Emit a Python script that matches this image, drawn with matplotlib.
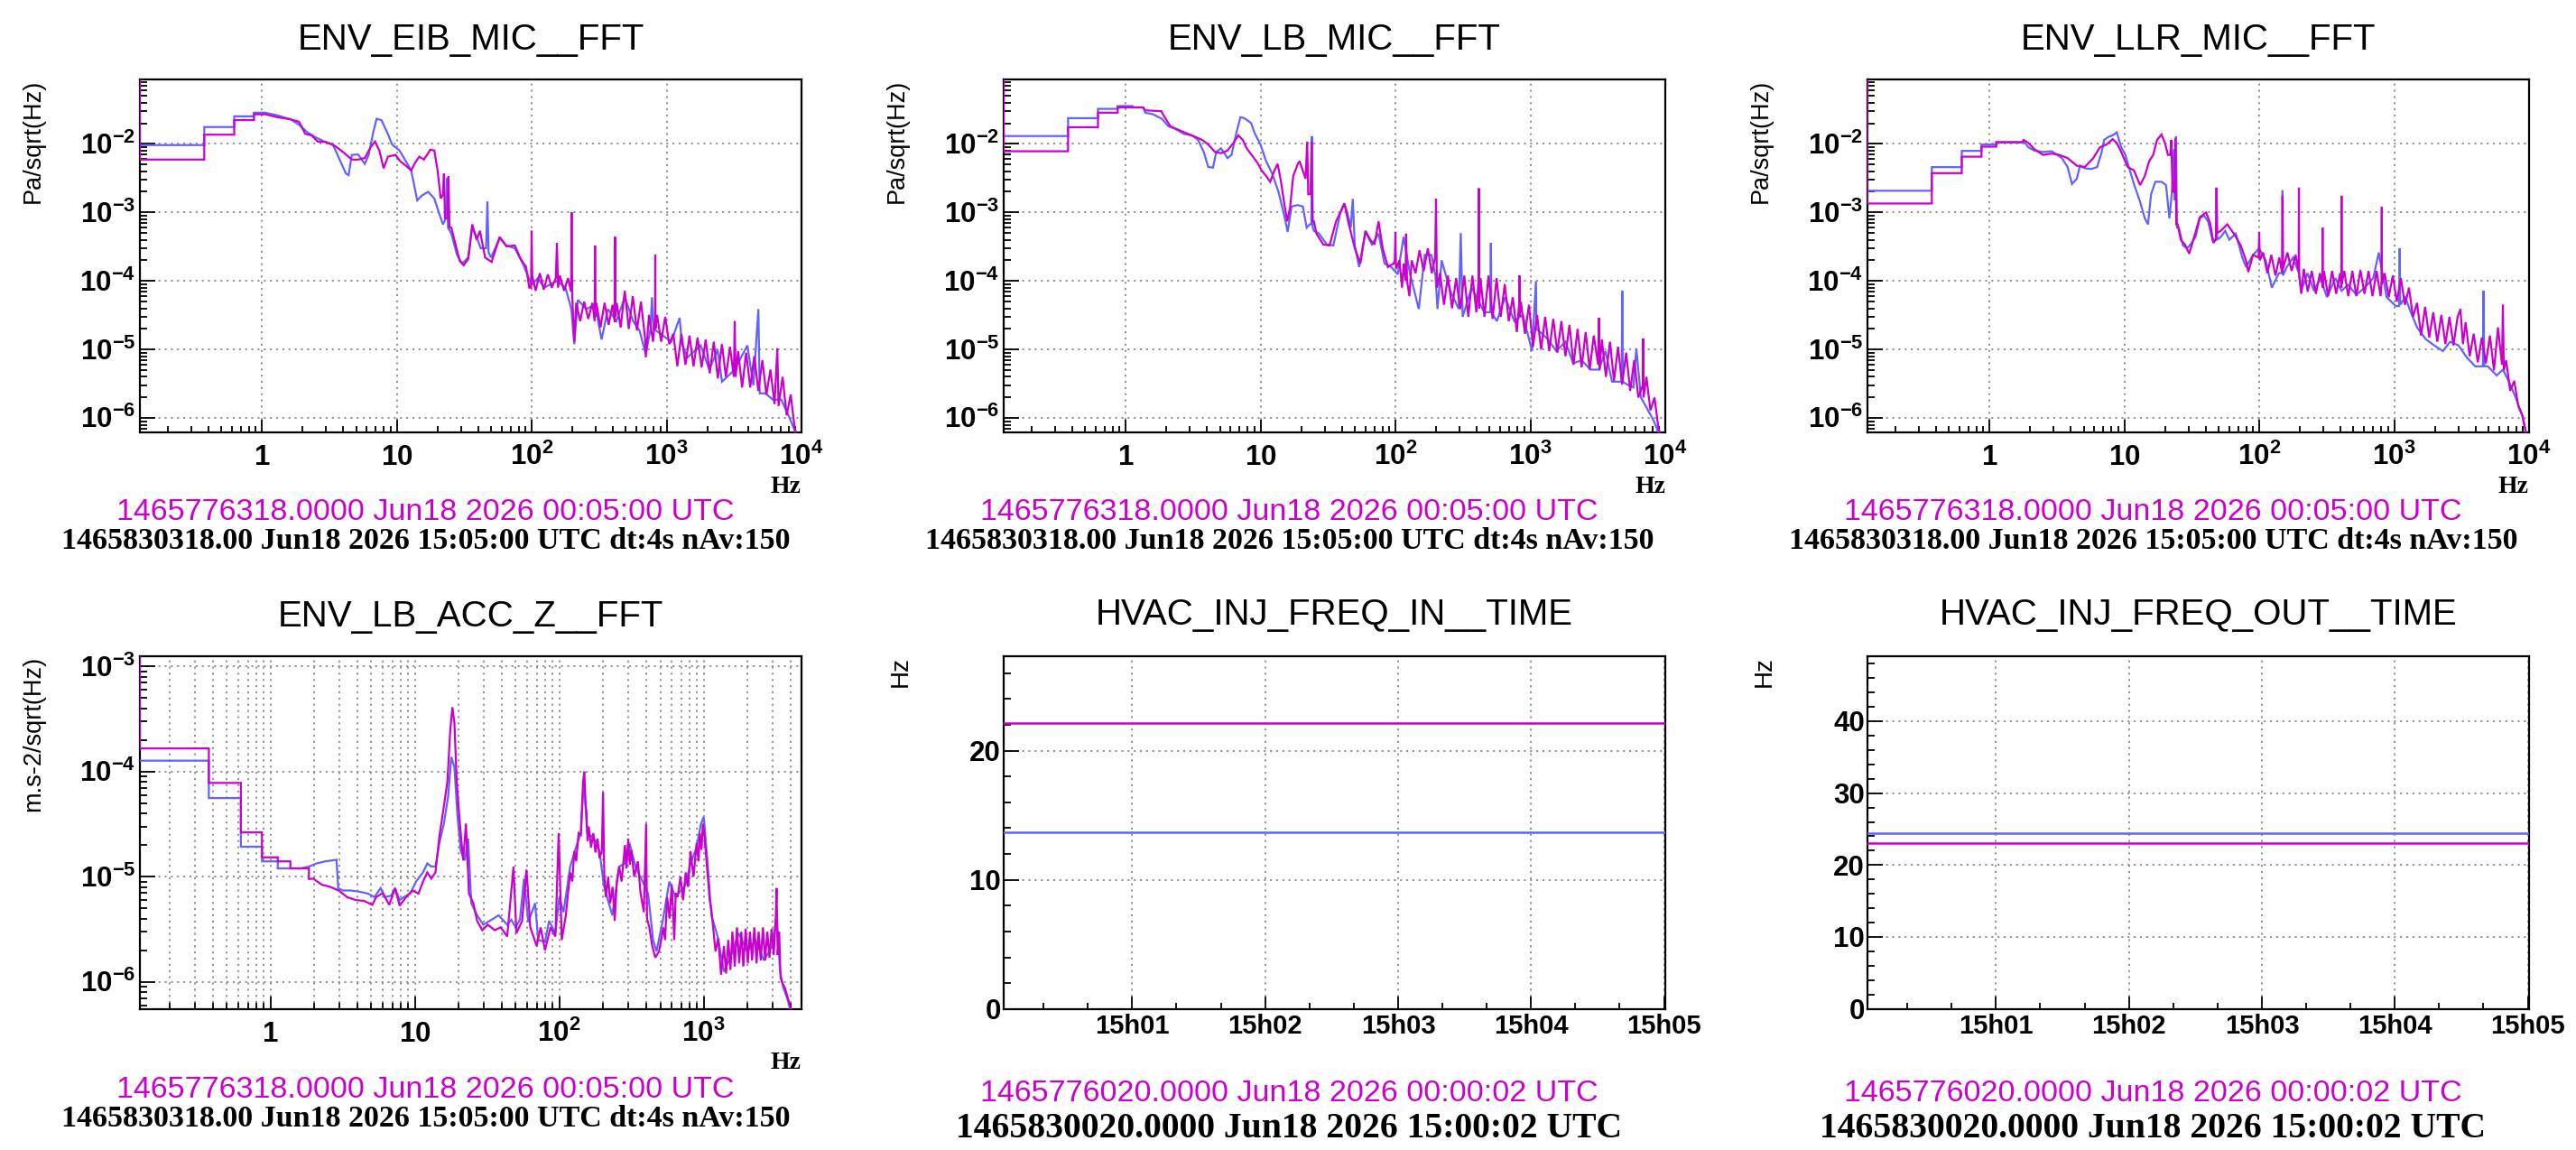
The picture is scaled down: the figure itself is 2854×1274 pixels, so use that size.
import numpy as np
import matplotlib
matplotlib.use("Agg")
import matplotlib.pyplot as plt
from matplotlib import transforms
from matplotlib.ticker import FixedLocator, LogLocator, MultipleLocator, NullFormatter

# ---------------------------------------------------------------- data
# amplitude spectra: (frequency [Hz], amplitude)
EIB_BLUE = [(0.125, 9.6e-3), (0.375, 9.6e-3), (0.375, 1.76e-2), (0.625, 1.76e-2), (0.625, 2.52e-2),
            (0.875, 2.52e-2), (0.875, 2.85e-2), (1.06, 2.85e-2), (1.31, 2.6e-2), (1.63, 2.28e-2),
            (1.89, 1.9e-2), (2.18, 1.47e-2), (2.52, 1.24e-2), (2.91, 1.08e-2), (3.36, 9.8e-3),
            (3.6, 7.3e-3), (4.2, 3.7e-3), (4.4, 3.5e-3), (4.65, 6.9e-3), (5.18, 7.0e-3), (5.8, 5.1e-3),
            (6.2, 6.9e-3), (6.7, 1.47e-2), (7.1, 2.32e-2), (7.7, 2.22e-2), (8.6, 1.4e-2), (9.24, 9.8e-3),
            (10.5, 8.0e-3), (11.5, 5.9e-3), (12.8, 4.1e-3), (14.2, 1.5e-3), (15.3, 1.75e-3),
            (17.1, 2.0e-3), (19.0, 1.6e-3), (20.7, 9.5e-4), (22.0, 6.7e-4), (23.0, 8e-4), (23.6, 3.2e-3),
            (24.0, 6e-4), (25.4, 4.9e-4), (28, 2.4e-4), (30.5, 1.8e-4), (33.9, 2.2e-4), (36.3, 6e-4),
            (39.1, 4.4e-4), (42, 3e-4), (46, 3e-4), (47, 1.45e-3), (48, 2.6e-4), (50, 2.2e-4),
            (58, 4.2e-4), (65, 3.3e-4), (75, 3e-4), (86, 1.8e-4), (100, 8.8e-5), (111, 1.1e-4),
            (124, 8e-5), (154, 1e-4), (178, 8e-5), (197, 3.9e-5), (207, 1.2e-5), (220, 5.3e-5),
            (254, 3.9e-5), (295, 4.5e-5), (330, 1.4e-5), (367, 3.9e-5), (425, 2.6e-5), (490, 5.8e-5),
            (565, 2.6e-5), (630, 1.9e-5), (702, 8.5e-6), (760, 2e-5), (780, 5.8e-5), (800, 2e-5),
            (900, 1.7e-5), (1082, 1.3e-5), (1250, 2.9e-5), (1300, 1.2e-5), (1430, 7.7e-6),
            (1790, 1.15e-5), (2074, 5.1e-6), (2390, 1.0e-5), (2575, 3.4e-6), (3198, 5.1e-6),
            (3971, 1.15e-5), (4400, 3.0e-6), (4790, 3.9e-5), (4900, 2.3e-6), (5400, 2.3e-6),
            (6124, 1.86e-6), (7080, 1.86e-6), (8170, 1.0e-6), (9440, 5e-7)]
EIB_MAG = [(0.125, 0.2), (0.125, 5.9e-3), (0.375, 5.9e-3), (0.375, 1.36e-2), (0.625, 1.36e-2),
           (0.625, 2.22e-2), (0.875, 2.22e-2), (0.875, 2.7e-2), (1.06, 2.7e-2), (1.31, 2.45e-2),
           (1.63, 2.28e-2), (1.89, 2.1e-2), (2.1, 1.4e-2), (2.34, 1.33e-2), (2.6, 1.08e-2),
           (3.0, 1.06e-2), (3.5, 9.3e-3), (4.0, 7.6e-3), (4.65, 5.9e-3), (5.18, 5.9e-3), (5.8, 6.2e-3),
           (6.4, 8.9e-3), (6.9, 1.08e-2), (7.44, 8e-3), (8.0, 4.4e-3), (8.6, 6.5e-3), (9.8, 6.9e-3),
           (10.6, 5.6e-3), (11.7, 4.8e-3), (12.8, 4.1e-3), (13.7, 5.3e-3), (14.7, 6.5e-3),
           (15.9, 5.9e-3), (17.1, 7.3e-3), (17.7, 8.2e-3), (19.0, 8e-3), (20.1, 4.1e-3),
           (21.2, 1.6e-3), (22.0, 1.8e-3), (22.4, 3.7e-3), (22.8, 8.2e-4), (23.8, 8.2e-4),
           (24.2, 3.4e-3), (24.6, 6e-4), (25.4, 6e-4), (27.4, 3.3e-4), (29.3, 1.97e-4), (31.4, 1.7e-4),
           (33.9, 2.1e-4), (36.3, 6.7e-4), (39.1, 4e-4), (41.4, 5.4e-4), (45.2, 2.2e-4),
           (50.5, 1.9e-4), (58, 4.4e-4), (65, 3.2e-4), (75, 3.3e-4), (83, 2.1e-4), (91, 1.6e-4),
           (96, 8e-5), (99, 8e-5), (100, 5.4e-4), (101, 1.2e-4), (107, 7.2e-5), (115, 1.3e-4),
           (123, 7.5e-5), (132, 1.25e-4), (141, 8e-5), (151, 1.1e-4), (154, 3.6e-4), (157, 8e-5),
           (162, 1.2e-4), (174, 7.2e-5), (186, 1.1e-4), (196, 7e-5), (198, 1e-3), (200, 6e-5),
           (207, 1.3e-5), (214, 4.8e-5), (229, 2.6e-5), (245, 5e-5), (263, 2.8e-5), (282, 4.8e-5),
           (293, 2.6e-5), (295, 3.3e-4), (298, 3e-5), (302, 4.8e-5), (324, 2.1e-5), (347, 4.8e-5),
           (372, 2.3e-5), (398, 4.5e-5), (413, 2.5e-5), (415, 4.4e-4), (418, 3e-5), (427, 4.8e-5),
           (457, 2.1e-5), (490, 7.2e-5), (525, 2.0e-5), (562, 6e-5), (603, 1.9e-5), (646, 5e-5),
           (692, 1.5e-5), (702, 7.7e-6), (741, 3.2e-5), (794, 1.3e-5), (822, 3e-5), (825, 2.4e-4),
           (828, 2e-5), (851, 3.2e-5), (912, 1.3e-5), (977, 3e-5), (1047, 1.2e-5), (1122, 1.7e-5),
           (1202, 5.7e-6), (1288, 1.7e-5), (1380, 6e-6), (1479, 1.6e-5), (1585, 5.7e-6),
           (1698, 1.5e-5), (1820, 5.5e-6), (1950, 1.4e-5), (2089, 4.5e-6), (2239, 1.3e-5),
           (2399, 3.8e-6), (2570, 1.2e-5), (2754, 4e-6), (2951, 1.1e-5), (3150, 4e-6), (3200, 2.6e-5),
           (3250, 4e-6), (3388, 9.5e-6), (3631, 2.8e-6), (3890, 9e-6), (4169, 2.8e-6), (4467, 8e-6),
           (4786, 2.5e-6), (5129, 7e-6), (5495, 2.2e-6), (5888, 5.1e-6), (6310, 1.6e-6),
           (6620, 1.04e-5), (6761, 1.5e-6), (7244, 4e-6), (7762, 1.1e-6), (8318, 2.2e-6),
           (8913, 7e-7), (9550, 5e-7)]

LB_BLUE = [(0.125, 1.3e-2), (0.375, 1.3e-2), (0.375, 2.37e-2), (0.625, 2.37e-2), (0.625, 3.24e-2),
           (0.875, 3.24e-2), (0.875, 3.56e-2), (1.125, 3.56e-2), (1.125, 3.4e-2), (1.35, 3.4e-2),
           (1.4, 2.85e-2), (1.6, 2.7e-2), (1.86, 2.32e-2), (2.08, 1.8e-2), (2.3, 1.68e-2), (2.7, 1.4e-2),
           (3.1, 1.33e-2), (3.45, 1.14e-2), (3.8, 7.6e-3), (4.1, 4.6e-3), (4.45, 4.5e-3), (4.7, 7.6e-3),
           (5.1, 8.6e-3), (5.7, 6.2e-3), (6.1, 6.9e-3), (6.6, 1.4e-2), (7.1, 2.45e-2), (7.6, 2.37e-2),
           (8.5, 2.02e-2), (9.1, 1.4e-2), (10, 9.8e-3), (11, 5.6e-3), (12.2, 3.7e-3), (13.6, 2.0e-3),
           (15, 9e-4), (15.9, 5.2e-4), (17, 1.22e-3), (18.9, 1.28e-3), (20.6, 1.22e-3), (22, 6e-4),
           (23.2, 6.7e-4), (23.8, 6.7e-4), (24.1, 1.29e-2), (24.4, 6e-4), (24.9, 5.4e-4),
           (27.2, 4.9e-4), (31, 3.4e-4), (34.7, 3.3e-4), (39.1, 1e-3), (41.8, 1.35e-3), (44, 1e-3),
           (46.7, 6e-4), (48.3, 1.58e-3), (50, 3.3e-4), (53.8, 1.6e-4), (60, 5.2e-4), (67, 3.4e-4),
           (75, 4.9e-4), (83, 1.8e-4), (93, 1.6e-4), (104, 1.25e-4), (115, 4.4e-4), (128, 1.3e-4),
           (149, 3.9e-5), (165, 2.4e-4), (185, 2.4e-4), (198, 1.2e-4), (205, 3.9e-5), (220, 2e-4),
           (255, 7.2e-5), (295, 3.9e-5), (305, 5e-4), (315, 3.0e-5), (367, 8e-5), (420, 4.8e-5),
           (455, 3.5e-5), (505, 3.5e-5), (510, 3.6e-4), (515, 3.5e-5), (565, 2.6e-5), (650, 5.8e-5),
           (760, 2.6e-5), (880, 3.2e-5), (1030, 9.5e-6), (1100, 1e-4), (1110, 2e-5), (1210, 1.73e-5),
           (1350, 1.41e-5), (1560, 9.5e-6), (1820, 1.3e-5), (2080, 6.3e-6), (2400, 7e-6),
           (2790, 5.1e-6), (3220, 5.1e-6), (3600, 9.5e-6), (4030, 3.4e-6), (4750, 3.4e-6),
           (4800, 7.2e-5), (4850, 3.4e-6), (5200, 3.1e-6), (5800, 2.8e-6), (6100, 1.04e-5),
           (6600, 2.0e-6), (7300, 1.4e-6), (8200, 9.2e-7), (9300, 5e-7)]
LB_MAG = [(0.125, 0.2), (0.125, 7.8e-3), (0.375, 7.8e-3), (0.375, 1.75e-2), (0.625, 1.75e-2),
          (0.625, 2.85e-2), (0.875, 2.85e-2), (0.875, 3.4e-2), (1.35, 3.4e-2), (1.4, 3.08e-2),
          (1.84, 3.0e-2), (1.95, 2.45e-2), (2.15, 1.8e-2), (2.5, 1.58e-2), (2.9, 1.4e-2),
          (3.3, 1.26e-2), (3.7, 1.14e-2), (4.1, 9.8e-3), (4.6, 7.6e-3), (5.1, 7.3e-3), (5.7, 8e-3),
          (6.3, 1.03e-2), (6.85, 1.33e-2), (7.4, 1.14e-2), (7.9, 8.6e-3), (8.8, 6.5e-3), (9.5, 5.3e-3),
          (10.2, 4.1e-3), (11, 3.4e-3), (11.8, 2.8e-3), (12.7, 4.1e-3), (13.4, 5.1e-3), (14.2, 2.8e-3),
          (15, 1.35e-3), (15.8, 7.4e-4), (16.6, 1.22e-3), (17.5, 3.4e-3), (18.9, 5.1e-3),
          (19.5, 5.6e-3), (20.6, 4.1e-3), (21.6, 3.1e-3), (22.2, 1.08e-2), (22.6, 1.84e-3),
          (23.5, 1.84e-3), (23.9, 1.08e-2), (24.3, 7.4e-4), (24.9, 7.4e-4), (26, 4.9e-4),
          (29.2, 3.4e-4), (32.5, 3.3e-4), (36.3, 7.4e-4), (39.1, 1e-3), (41.8, 1.35e-3),
          (45.2, 6.7e-4), (50, 3e-4), (55, 1.8e-4), (60, 5.4e-4), (65, 4e-4), (70, 3.4e-4),
          (75, 7.4e-4), (80.5, 3e-4), (88, 1.6e-4), (97, 1.8e-4), (99, 2e-4), (100, 5.2e-4),
          (101, 1.5e-4), (107, 2e-4), (112, 8e-5), (115, 1.8e-4), (119, 1e-4), (120, 4.9e-4),
          (122, 1e-4), (127, 6e-5), (132, 2e-4), (141, 1.3e-4), (151, 2.8e-4), (162, 1.4e-4),
          (174, 3e-4), (186, 1.3e-4), (197, 2.2e-4), (200, 1.58e-3), (203, 8e-5), (214, 1.3e-4),
          (229, 4.5e-5), (245, 1.2e-4), (263, 4e-5), (282, 1.1e-4), (302, 3.9e-5), (324, 1.2e-4),
          (347, 3e-5), (372, 1.2e-4), (398, 3.5e-5), (413, 1e-4), (415, 2.25e-3), (418, 4e-5),
          (427, 1.1e-4), (457, 3e-5), (490, 1.2e-4), (525, 2.8e-5), (562, 1.1e-4), (603, 3e-5),
          (646, 9e-5), (692, 2.6e-5), (741, 5.8e-5), (794, 1.8e-5), (828, 5e-5), (830, 1.2e-4),
          (833, 3e-5), (851, 5e-5), (912, 1.7e-5), (977, 4.5e-5), (1047, 1.1e-5), (1122, 3.2e-5),
          (1202, 1e-5), (1288, 3e-5), (1380, 9.5e-6), (1479, 2.8e-5), (1585, 9e-6), (1698, 2.6e-5),
          (1820, 8e-6), (1950, 2.3e-5), (2089, 6e-6), (2239, 2e-5), (2399, 5.5e-6), (2570, 1.8e-5),
          (2754, 5.1e-6), (2951, 1.6e-5), (3180, 6e-6), (3220, 2.9e-5), (3260, 5e-6), (3388, 1.4e-5),
          (3631, 4e-6), (3890, 1.3e-5), (4169, 3.5e-6), (4467, 1.1e-5), (4786, 3.1e-6),
          (5129, 9e-6), (5495, 2.5e-6), (5888, 7e-6), (6310, 2e-6), (6800, 3e-6), (6850, 1.45e-5),
          (6900, 2e-6), (7244, 4e-6), (7762, 1.3e-6), (8318, 2e-6), (8913, 7e-7), (9450, 5e-7)]

LLR_BLUE = [(0.125, 2.07e-3), (0.375, 2.07e-3), (0.375, 4.58e-3), (0.625, 4.58e-3), (0.625, 7.9e-3),
            (0.875, 7.9e-3), (0.875, 9.8e-3), (1.125, 9.8e-3), (1.125, 1.05e-2), (1.8, 1.05e-2),
            (1.84, 1.03e-2), (1.95, 8.9e-3), (2.15, 8.0e-3), (2.5, 7.6e-3), (2.9, 7.8e-3),
            (3.2, 6.9e-3), (3.45, 6.2e-3), (3.8, 4.6e-3), (4.1, 2.6e-3), (4.45, 3.1e-3), (4.7, 4.8e-3),
            (5.1, 4.4e-3), (5.7, 4.3e-3), (6.3, 4.6e-3), (6.8, 7.6e-3), (7.1, 1.14e-2), (7.6, 1.26e-2),
            (8.2, 1.33e-2), (8.8, 1.47e-2), (9.5, 8.9e-3), (10.2, 6.9e-3), (11, 4.1e-3),
            (11.8, 2.6e-3), (13.1, 1.43e-3), (14.2, 8.2e-4), (15, 6.7e-4), (15.8, 1.84e-3),
            (17, 2.8e-3), (18.9, 2.8e-3), (20.4, 2.5e-3), (21.6, 8.2e-4), (22.7, 2.25e-3),
            (23.3, 8.4e-3), (23.7, 1.5e-3), (24.2, 1.29e-2), (24.6, 6e-4), (25.4, 6e-4),
            (27.2, 3.3e-4), (29.2, 3e-4), (31, 3.4e-4), (33.8, 4.4e-4), (36.3, 8.2e-4), (39, 9e-4),
            (41.8, 7.4e-4), (45, 4e-4), (47.8, 4e-4), (48.3, 2.25e-3), (48.8, 4e-4), (52, 4.4e-4),
            (56, 5.4e-4), (60, 4e-4), (67, 4.9e-4), (75, 2.2e-4), (80, 1.6e-4), (90, 2.4e-4),
            (100, 3e-4), (112, 1.97e-4), (124, 8e-5), (140, 1.3e-4), (148, 1.3e-4), (149, 2.1e-3),
            (150, 1.2e-4), (160, 1.6e-4), (178, 2.2e-4), (197, 1.3e-4), (205, 7.2e-5), (228, 1.3e-4),
            (255, 7.2e-5), (285, 1.1e-4), (318, 5.8e-5), (367, 1.1e-4), (408, 7.2e-5), (455, 8.8e-5),
            (525, 6.3e-5), (605, 8e-5), (700, 1.1e-4), (770, 2.6e-4), (880, 5.8e-5), (1030, 4.3e-5),
            (1090, 4.3e-5), (1100, 3.0e-4), (1110, 4.5e-5), (1210, 5.8e-5), (1330, 3.5e-5),
            (1480, 2.1e-5), (1720, 1.41e-5), (1980, 1.15e-5), (2300, 9.5e-6), (2600, 1.3e-5),
            (3000, 1.15e-5), (3450, 7.7e-6), (3990, 5.7e-6), (4550, 5.7e-6), (4600, 7.2e-5),
            (4650, 5.7e-6), (4950, 5.7e-6), (5750, 4.2e-6), (6400, 5.1e-6), (7100, 3.4e-6),
            (7950, 2.0e-6), (8900, 1.1e-6), (9600, 5.5e-7)]
LLR_MAG = [(0.125, 0.2), (0.125, 1.35e-3), (0.375, 1.35e-3), (0.375, 3.74e-3), (0.625, 3.74e-3),
           (0.625, 6.5e-3), (0.875, 6.5e-3), (0.875, 9.1e-3), (1.125, 9.1e-3), (1.125, 1.06e-2),
           (1.75, 1.06e-2), (1.8, 1.14e-2), (1.95, 1.03e-2), (2.15, 8.4e-3), (2.5, 6.9e-3),
           (2.9, 7.2e-3), (3.3, 6.9e-3), (3.8, 6.2e-3), (4.45, 4.8e-3), (5.1, 4.6e-3), (5.9, 6.2e-3),
           (6.6, 8.9e-3), (7.4, 9.8e-3), (8.2, 1.17e-2), (8.8, 1.03e-2), (9.5, 7.6e-3),
           (10.6, 4.6e-3), (11.8, 4.1e-3), (13.1, 2.5e-3), (14.2, 3.4e-3), (15.3, 5.6e-3),
           (16.4, 6.9e-3), (17.5, 1.14e-2), (18.9, 1.37e-2), (20, 1.03e-2), (21.1, 6.9e-3),
           (21.9, 6.9e-3), (22.3, 1.14e-2), (22.8, 2.0e-3), (23.6, 2.0e-3), (23.9, 1.2e-2),
           (24.3, 6.7e-4), (24.9, 6.7e-4), (26.2, 4e-4), (28.2, 3.4e-4), (30.3, 2.5e-4), (32.5, 4e-4),
           (36.3, 8.5e-4), (40.5, 1e-3), (43.5, 6.7e-4), (45.8, 3.6e-4), (47.8, 4e-4), (48.3, 2.3e-3),
           (48.8, 5e-4), (52, 5.4e-4), (58, 6.7e-4), (65, 4.9e-4), (73, 3.3e-4), (80, 1.97e-4),
           (83, 1.35e-4), (90, 2.4e-4), (99, 2.2e-4), (100, 5.2e-4), (101, 2e-4), (107, 2.6e-4),
           (115, 1.3e-4), (123, 2.4e-4), (132, 1.2e-4), (141, 2.2e-4), (148, 1.3e-4), (149, 1.75e-3),
           (150, 1.5e-4), (162, 2.6e-4), (174, 1.4e-4), (186, 2.4e-4), (196, 1.4e-4), (197, 2.3e-3),
           (198, 1.2e-4), (205, 6.5e-5), (214, 1.5e-4), (229, 7e-5), (245, 1.4e-4), (263, 6.5e-5),
           (282, 1.3e-4), (294, 9e-5), (295, 6e-4), (296, 8e-5), (302, 1.4e-4), (324, 6e-5),
           (347, 1.4e-4), (372, 6.5e-5), (398, 1.3e-4), (407, 8e-5), (408, 1.75e-3), (409, 9e-5),
           (427, 1.4e-4), (457, 6e-5), (490, 1.4e-4), (525, 6e-5), (562, 1.45e-4), (603, 6.5e-5),
           (646, 1.4e-4), (692, 6e-5), (741, 1.4e-4), (794, 6e-5), (808, 1e-4), (810, 1.2e-3),
           (812, 9e-5), (851, 1.3e-4), (912, 5.8e-5), (977, 1.2e-4), (1047, 5e-5), (1122, 1.1e-4),
           (1202, 4.5e-5), (1288, 8e-5), (1380, 3e-5), (1479, 4.8e-5), (1585, 1.6e-5), (1698, 4.2e-5),
           (1820, 1.5e-5), (1950, 3.5e-5), (2089, 1.3e-5), (2239, 3.2e-5), (2399, 1.2e-5),
           (2570, 3e-5), (2754, 1.15e-5), (2951, 3e-5), (3100, 3.9e-5), (3236, 1.2e-5), (3388, 2.5e-5),
           (3631, 8e-6), (3890, 1.7e-5), (4169, 6.5e-6), (4467, 1.5e-5), (4786, 6.3e-6),
           (5129, 1.6e-5), (5495, 5e-6), (5888, 2.1e-5), (6300, 6e-6), (6400, 4.5e-5), (6500, 5e-6),
           (6761, 7e-6), (7244, 2.5e-6), (7762, 3.5e-6), (8318, 1.5e-6), (8913, 1.1e-6),
           (9600, 5.5e-7)]

ACC_BLUE = [(0.125, 1.27e-4), (0.375, 1.27e-4), (0.375, 5.6e-5), (0.625, 5.6e-5), (0.625, 1.93e-5),
            (0.875, 1.93e-5), (0.875, 1.4e-5), (1.125, 1.4e-5), (1.125, 1.2e-5), (1.62, 1.2e-5),
            (1.85, 1.25e-5), (2.1, 1.34e-5), (2.4, 1.4e-5), (2.87, 1.45e-5), (2.95, 7.8e-6),
            (3.17, 7.4e-6), (3.6, 7.4e-6), (4.15, 7.2e-6), (4.75, 6.9e-6), (5.25, 6.4e-6),
            (5.8, 7.8e-6), (6.2, 6.4e-6), (6.85, 6.6e-6), (7.3, 7.8e-6), (7.85, 6e-6), (8.4, 6.4e-6),
            (9.3, 6.9e-6), (10.2, 9e-6), (11.4, 1.1e-5), (12.2, 1.34e-5), (13, 1.25e-5),
            (13.9, 1.25e-5), (14.8, 2.1e-5), (15.9, 3.2e-5), (17, 5.8e-5), (17.9, 1.38e-4),
            (18.8, 1.1e-4), (19.7, 3.9e-5), (20.8, 1.75e-5), (22.2, 1.43e-5), (23.4, 2.3e-5),
            (24.6, 5.6e-6), (27, 4.3e-6), (29.8, 3.5e-6), (34, 3.9e-6), (38, 4.3e-6), (43.6, 3.5e-6),
            (46.5, 3.9e-6), (49.8, 3.3e-6), (53.4, 3.9e-6), (57, 9.6e-6), (61, 3.7e-6), (68, 5.6e-6),
            (71.5, 2.5e-6), (79.6, 2.4e-6), (85, 3.8e-6), (94, 2.9e-6), (100, 6.4e-6), (107, 4.6e-6),
            (119, 1.25e-5), (132, 2.0e-5), (141, 2.6e-5), (148, 8.5e-5), (156, 2.6e-5),
            (167, 2.44e-5), (178, 2.2e-5), (190, 1.75e-5), (203, 8.4e-6), (217, 6e-6), (233, 4.3e-6),
            (260, 1.25e-5), (285, 1.34e-5), (306, 2.1e-5), (337, 1.25e-5), (377, 9e-6),
            (412, 6.9e-6), (446, 2.5e-6), (471, 1.95e-6), (520, 3.8e-6), (578, 9e-6), (638, 6.4e-6),
            (750, 8.4e-6), (800, 1.25e-5), (893, 1.93e-5), (957, 3.2e-5), (1000, 3.7e-5),
            (1060, 1.43e-5), (1130, 4.3e-6), (1248, 2.7e-6), (1380, 1.25e-6), (1527, 1.7e-6),
            (1745, 2.9e-6), (1995, 1.95e-6), (2283, 2.5e-6), (2610, 1.6e-6), (2985, 2.2e-6),
            (3193, 4.3e-6), (3370, 1.3e-6), (3535, 9e-7), (3780, 7e-7), (4040, 5e-7)]
ACC_MAG = [(0.125, 2e-3), (0.125, 1.66e-4), (0.375, 1.66e-4), (0.375, 7.8e-5), (0.625, 7.8e-5),
           (0.625, 2.64e-5), (0.875, 2.64e-5), (0.875, 1.53e-5), (1.125, 1.53e-5), (1.125, 1.4e-5),
           (1.375, 1.4e-5), (1.375, 1.2e-5), (1.85, 1.2e-5), (1.85, 9.5e-6), (1.98, 9.6e-6),
           (2.27, 8.4e-6), (2.6, 8e-6), (2.97, 7.4e-6), (3.4, 6.4e-6), (3.9, 6e-6), (4.43, 5.9e-6),
           (5.08, 5.4e-6), (5.4, 6.4e-6), (6.0, 7e-6), (6.65, 5.4e-6), (7.3, 7.8e-6), (7.85, 5.3e-6),
           (8.7, 6.4e-6), (9.6, 7.4e-6), (10.6, 6.9e-6), (11.4, 9e-6), (12.2, 1.1e-5), (13, 9.6e-6),
           (13.9, 1.1e-5), (14.8, 2.44e-5), (15.9, 4.7e-5), (16.8, 8e-5), (17.6, 2.5e-4),
           (18.2, 4.1e-4), (18.8, 2.9e-4), (19.5, 8e-5), (20.4, 3.5e-5), (21.6, 1.43e-5),
           (22.6, 3.2e-5), (23.7, 6.9e-6), (25.4, 5.6e-6), (27, 3.8e-6), (29.3, 3.1e-6), (32, 3.5e-6),
           (35.7, 3.1e-6), (39.3, 3.3e-6), (43.6, 2.7e-6), (48.2, 1.25e-5), (50.5, 2.9e-6),
           (55.3, 3.8e-6), (59.3, 1.17e-5), (63, 3.3e-6), (69.7, 2.2e-6), (74.3, 3.3e-6),
           (79.6, 2.0e-6), (87, 3.3e-6), (94, 2.7e-6), (99, 2.6e-5), (104, 2.5e-6), (111, 4.3e-6),
           (115, 7e-6), (119, 1.1e-5), (123, 9e-6), (127, 1.75e-5), (131, 1.4e-5), (136, 2.6e-5),
           (141, 2.5e-5), (146, 7.9e-5), (149, 1e-4), (152, 5e-5), (154, 4.2e-5), (157, 2.2e-5),
           (160, 3e-5), (166, 1.9e-5), (172, 2.6e-5), (178, 1.7e-5), (184, 2.3e-5), (190, 1.5e-5),
           (197, 1.75e-5), (201, 6.4e-5), (205, 1e-5), (210, 6.4e-6), (218, 1e-5), (225, 5.6e-6),
           (234, 8e-6), (242, 3.8e-6), (250, 9e-6), (260, 1.25e-5), (270, 9e-6), (285, 2e-5),
           (292, 1.2e-5), (300, 2.3e-5), (308, 1.3e-5), (315, 1.8e-5), (330, 1.0e-5), (350, 1.4e-5),
           (365, 7e-6), (385, 4.6e-6), (399, 3.2e-5), (405, 4e-6), (420, 3.3e-6), (440, 2.2e-6),
           (462, 1.7e-6), (490, 1.95e-6), (510, 2.6e-6), (525, 3.3e-6), (540, 2.5e-6), (558, 6.4e-6),
           (580, 4e-6), (600, 8.4e-6), (612, 5e-6), (625, 2.5e-6), (640, 7e-6), (660, 6.4e-6),
           (690, 1e-5), (720, 6e-6), (750, 1.1e-5), (780, 8e-6), (810, 1.75e-5), (850, 1e-5),
           (893, 2.1e-5), (920, 1.4e-5), (940, 2.6e-5), (965, 1.8e-5), (987, 3.2e-5), (1010, 2.5e-5),
           (1060, 1.1e-5), (1100, 6e-6), (1128, 4.9e-6), (1207, 1.95e-6), (1260, 2.6e-6),
           (1318, 1.17e-6), (1380, 2.2e-6), (1428, 1.2e-6), (1479, 2.5e-6), (1530, 1.3e-6),
           (1578, 3e-6), (1640, 1.4e-6), (1698, 3.3e-6), (1760, 1.5e-6), (1820, 3e-6), (1880, 1.4e-6),
           (1950, 3.2e-6), (2020, 1.5e-6), (2089, 3e-6), (2160, 1.6e-6), (2239, 3.3e-6),
           (2320, 1.5e-6), (2399, 3e-6), (2480, 1.6e-6), (2570, 3.3e-6), (2660, 1.6e-6), (2754, 3e-6),
           (2850, 1.7e-6), (2951, 3.2e-6), (3050, 1.8e-6), (3150, 4e-6), (3193, 7.8e-6),
           (3250, 1.8e-6), (3330, 3e-6), (3400, 1.1e-6), (3480, 1e-6), (3653, 8.7e-7),
           (3911, 6.3e-7), (4120, 4.5e-7)]

# time series: seconds after 15:00:00 and frequency values [Hz]
TIME_S = [2, 60, 120, 180, 240, 300]
HVAC_IN_BLUE = [13.7, 13.7, 13.7, 13.7, 13.7, 13.7]
HVAC_IN_MAG = [22.1, 22.1, 22.1, 22.1, 22.1, 22.1]
HVAC_OUT_BLUE = [24.5, 24.5, 24.5, 24.5, 24.5, 24.5]
HVAC_OUT_MAG = [23.0, 23.0, 23.0, 23.0, 23.0, 23.0]
TIME_TICKS = [60, 120, 180, 240, 300]
TIME_TICK_LABELS = ["15h01", "15h02", "15h03", "15h04", "15h05"]

FFT_TITLES = ["ENV_EIB_MIC__FFT", "ENV_LB_MIC__FFT", "ENV_LLR_MIC__FFT", "ENV_LB_ACC_Z__FFT"]
FFT_YLABELS = ["Pa/sqrt(Hz)", "Pa/sqrt(Hz)", "Pa/sqrt(Hz)", "m.s-2/sqrt(Hz)"]
TIME_TITLES = ["HVAC_INJ_FREQ_IN__TIME", "HVAC_INJ_FREQ_OUT__TIME"]
FFT_REF = "1465776318.0000 Jun18 2026 00:05:00 UTC"
FFT_CUR = "1465830318.00 Jun18 2026 15:05:00 UTC dt:4s nAv:150"
TIME_REF = "1465776020.0000 Jun18 2026 00:00:02 UTC"
TIME_CUR = "1465830020.0000 Jun18 2026 15:00:02 UTC"

# ---------------------------------------------------------------- style
W, H = 2854, 1274
BLUE = "#6262ff"
MAG = "#cc00cc"
GRID = dict(color="#8a8a8a", linestyle=(0, (1.2, 2.6)), linewidth=1.3)
TICK_FS = 22.5

plt.rcParams["font.family"] = ["Liberation Sans", "DejaVu Sans"]
plt.rcParams["mathtext.fontset"] = "custom"
plt.rcParams["mathtext.rm"] = "Liberation Sans:bold"
plt.rcParams["mathtext.it"] = "Liberation Sans:bold"
plt.rcParams["mathtext.bf"] = "Liberation Sans:bold"
plt.rcParams["mathtext.default"] = "rm"

fig = plt.figure(figsize=(W / 100, H / 100), dpi=100)
fig.patch.set_facecolor("white")

COL_X = [155, 1112, 2069]
ROW_Y = [88, 727]
AX_W, AX_H = 733, 391


def add_axes_px(x0, y0):
    return fig.add_axes([x0 / W, 1 - (y0 + AX_H) / H, AX_W / W, AX_H / H])


def ftext(x, y, s, **kw):
    fig.text(x / W, 1 - y / H, s, **kw)


def style_frame(ax):
    for sp in ax.spines.values():
        sp.set_linewidth(1.6)
        sp.set_color("black")
    ax.set_axisbelow(True)
    ax.tick_params(which="both", direction="in", top=False, right=False,
                   labelbottom=False, labelleft=False, width=1.3, color="black")
    ax.tick_params(axis="y", which="major", length=12)
    ax.tick_params(axis="y", which="minor", length=5.5)
    ax.tick_params(axis="x", which="major", length=10)
    ax.tick_params(axis="x", which="minor", length=5)


def x_labels(ax, vals, texts, dy_px, fs):
    tr = transforms.offset_copy(
        transforms.blended_transform_factory(ax.transData, ax.transAxes),
        fig=fig, x=0, y=-dy_px, units="dots")
    for v, t in zip(vals, texts):
        ax.text(v, 0, t, transform=tr, ha="center", va="baseline", fontsize=fs,
                fontweight="bold", clip_on=False)


def y_labels(ax, vals, texts, dx_px, fs):
    tr = transforms.offset_copy(
        transforms.blended_transform_factory(ax.transAxes, ax.transData),
        fig=fig, x=-dx_px, y=-0.36 * fs * 100 / 72, units="dots")
    for v, t in zip(vals, texts):
        ax.text(0, v, t, transform=tr, ha="right", va="baseline", fontsize=fs,
                fontweight="bold", clip_on=False)


def exp_label(e):
    if e == 0:
        return r"$1$"
    if e == 1:
        return r"$10$"
    return r"$10^{%d}$" % e


def captions(ax_x, ax_bottom, ref, cur, ref_dy, cur_dy, cur_fs):
    cx = ax_x + AX_W / 2 - 50
    ftext(cx, ax_bottom + ref_dy, ref, color=MAG, fontsize=24.5, ha="center", va="center")
    ftext(cx, ax_bottom + cur_dy, cur, color="black", fontsize=cur_fs, ha="center", va="center",
          family=["Liberation Serif", "DejaVu Serif"], fontweight="bold")


def fft_panel(col, row, title, ylabel, blue, mag, xlim, ylim, xexp, yexp, dense_grid):
    x0, y0 = COL_X[col], ROW_Y[row]
    ax = add_axes_px(x0, y0)
    fb, ab = zip(*blue)
    fm, am = zip(*mag)
    ax.plot(fb, ab, color=BLUE, lw=1.6, zorder=3, solid_joinstyle="miter")
    ax.plot(fm, am, color=MAG, lw=1.6, zorder=4, solid_joinstyle="miter")
    ax.set_xscale("log")
    ax.set_yscale("log")
    ax.set_xlim(*xlim)
    ax.set_ylim(*ylim)
    ax.xaxis.set_major_locator(FixedLocator([10.0 ** e for e in xexp]))
    ax.xaxis.set_minor_locator(LogLocator(base=10, subs=np.arange(2, 10), numticks=60))
    ax.yaxis.set_major_locator(FixedLocator([10.0 ** e for e in yexp]))
    ax.yaxis.set_minor_locator(LogLocator(base=10, subs=np.arange(2, 10), numticks=60))
    ax.xaxis.set_minor_formatter(NullFormatter())
    ax.yaxis.set_minor_formatter(NullFormatter())
    style_frame(ax)
    ax.grid(True, which="major", axis="both", **GRID)
    if dense_grid:
        ax.xaxis.grid(True, which="minor", **GRID)
    x_labels(ax, [10.0 ** e for e in xexp], [exp_label(e) for e in xexp], 36, TICK_FS)
    y_labels(ax, [10.0 ** e for e in yexp], [exp_label(e) for e in yexp], 5, TICK_FS)
    bottom = y0 + AX_H
    ftext(x0 + AX_W / 2, y0 - 44, title, fontsize=29, ha="center", va="center")
    ftext(x0 - 118, y0, ylabel, fontsize=19.5, rotation=90, ha="center", va="top")
    ftext(x0 + AX_W, bottom + 60, "Hz", fontsize=20, ha="right", va="center",
          family=["Liberation Serif", "DejaVu Serif"], fontweight="bold")
    captions(x0, bottom, FFT_REF, FFT_CUR, 89, 121, 24.5)
    return ax


def time_panel(col, row, title, blue, mag, ymax, yticks):
    x0, y0 = COL_X[col], ROW_Y[row]
    ax = add_axes_px(x0, y0)
    ax.plot(TIME_S, blue, color=BLUE, lw=1.8, zorder=3)
    ax.plot(TIME_S, mag, color=MAG, lw=1.8, zorder=4)
    ax.set_xlim(2, 300.6)
    ax.set_ylim(0, ymax)
    ax.xaxis.set_major_locator(FixedLocator(TIME_TICKS))
    ax.xaxis.set_minor_locator(MultipleLocator(20))
    ax.yaxis.set_major_locator(FixedLocator(yticks))
    ax.yaxis.set_minor_locator(MultipleLocator(2))
    style_frame(ax)
    ax.grid(True, which="major", axis="both", **GRID)
    x_labels(ax, TIME_TICKS, TIME_TICK_LABELS, 27, 21)
    y_labels(ax, yticks, [str(v) for v in yticks], 3, TICK_FS)
    bottom = y0 + AX_H
    ftext(x0 + AX_W / 2, y0 - 46, title, fontsize=29, ha="center", va="center")
    ftext(x0 - 114, y0, "Hz", fontsize=20, rotation=90, ha="center", va="top")
    captions(x0, bottom, TIME_REF, TIME_CUR, 93, 132, 28.5)
    return ax


MIC_XLIM = (0.125, 1.0e4)
MIC_YLIM = (6.2e-7, 8.7e-2)
fft_panel(0, 0, FFT_TITLES[0], FFT_YLABELS[0], EIB_BLUE, EIB_MAG, MIC_XLIM, MIC_YLIM,
          [0, 1, 2, 3, 4], [-6, -5, -4, -3, -2], False)
fft_panel(1, 0, FFT_TITLES[1], FFT_YLABELS[1], LB_BLUE, LB_MAG, MIC_XLIM, MIC_YLIM,
          [0, 1, 2, 3, 4], [-6, -5, -4, -3, -2], False)
fft_panel(2, 0, FFT_TITLES[2], FFT_YLABELS[2], LLR_BLUE, LLR_MAG, MIC_XLIM, MIC_YLIM,
          [0, 1, 2, 3, 4], [-6, -5, -4, -3, -2], False)
fft_panel(0, 1, FFT_TITLES[3], FFT_YLABELS[3], ACC_BLUE, ACC_MAG, (0.125, 4750.0),
          (5.5e-7, 1.25e-3), [0, 1, 2, 3], [-6, -5, -4, -3], True)
time_panel(1, 1, TIME_TITLES[0], HVAC_IN_BLUE, HVAC_IN_MAG, 27.3, [0, 10, 20])
time_panel(2, 1, TIME_TITLES[1], HVAC_OUT_BLUE, HVAC_OUT_MAG, 49.0, [0, 10, 20, 30, 40])

fig.savefig("out.png", dpi=100, facecolor="white")
